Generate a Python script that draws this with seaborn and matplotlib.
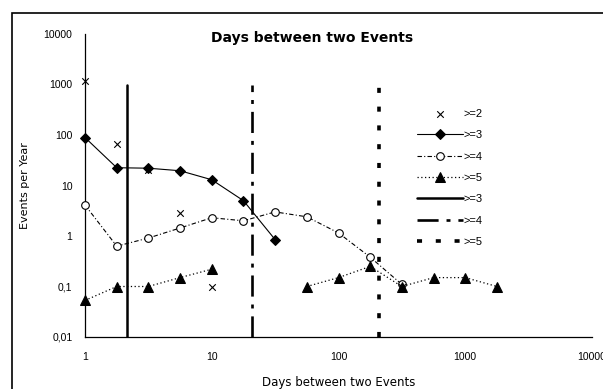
import numpy as np
import pandas as pd
import seaborn as sns
import matplotlib
matplotlib.use('Agg')
import matplotlib.pyplot as plt
from matplotlib.patches import Rectangle
from matplotlib.ticker import FixedLocator, FixedFormatter, NullLocator

# values (quarter-decade day bins)
ge2_days = [1, 1.78, 3.16, 5.62, 10, 316]
ge2_events = [1150, 65, 20, 2.9, 0.1, 0.1]

ge3_days = [1, 1.78, 3.16, 5.62, 10, 17.8, 31.6]
ge3_events = [89, 22.5, 22, 19.6, 13, 5.0, 0.85]

ge4_days = [1, 1.78, 3.16, 5.62, 10, 17.8, 31.6, 56.2, 100, 178, 316]
ge4_events = [4.1, 0.63, 0.91, 1.44, 2.3, 2.0, 3.0, 2.4, 1.15, 0.38, 0.11]

ge5_days_a = [1, 1.78, 3.16, 5.62, 10]
ge5_events_a = [0.053, 0.1, 0.1, 0.15, 0.22]
ge5_days_b = [56.2, 100, 178, 316, 562, 1000, 1778]
ge5_events_b = [0.1, 0.15, 0.25, 0.1, 0.15, 0.15, 0.1]

# vertical threshold lines
thr_days = [2.14, 20.6, 210]
thr_labels = ['>=3', '>=4', '>=5']
thr_span = [0.01, 1000]

ytick_vals = [0.01, 0.1, 1, 10, 100, 1000, 10000]
ytick_labels = ['0,01', '0,1', '1', '10', '100', '1000', '10000']
xtick_vals = [1, 10, 100, 1000, 10000]
xtick_labels = ['1', '10', '100', '1000', '10000']

sns.set_style('white')
plt.rcParams['font.family'] = ['Liberation Sans', 'DejaVu Sans']
plt.rcParams['text.color'] = 'black'
plt.rcParams['axes.labelcolor'] = 'black'

W, H = 603, 389
fig = plt.figure(figsize=(W / 100, H / 100), dpi=100)
ax = fig.add_axes([85 / W, 52 / H, (592 - 85) / W, (337 - 34) / H])

# vertical lines
thr_styles = ['-', (0, (8, 3, 1.5, 3)), (0, (1.4, 3.8))]
thr_widths = [1.8, 1.9, 2.6]
for d, lab, ls, lw in zip(thr_days, thr_labels, thr_styles, thr_widths):
    sns.lineplot(x=[d, d], y=thr_span, ax=ax, color='black', linestyle=ls, lw=lw,
                 estimator=None, sort=False, label=lab)

sns.lineplot(x=ge3_days, y=ge3_events, ax=ax, color='black', lw=0.8, marker='D',
             markersize=5, markeredgecolor='black', estimator=None, sort=False,
             label='>=3', clip_on=False, zorder=4)
sns.lineplot(x=ge4_days, y=ge4_events, ax=ax, color='black', lw=0.8,
             linestyle=(0, (4, 2, 1, 2)), marker='o', markersize=5.5,
             markerfacecolor='white', markeredgecolor='black', markeredgewidth=0.8,
             estimator=None, sort=False, label='>=4', clip_on=False, zorder=4)
sns.lineplot(x=ge5_days_a, y=ge5_events_a, ax=ax, color='black', lw=0.9,
             linestyle=(0, (1, 2)), marker='^', markersize=6.5,
             markeredgecolor='black', estimator=None, sort=False,
             label='>=5', clip_on=False, zorder=4)
sns.lineplot(x=ge5_days_b, y=ge5_events_b, ax=ax, color='black', lw=0.9,
             linestyle=(0, (1, 2)), marker='^', markersize=6.5,
             markeredgecolor='black', estimator=None, sort=False,
             clip_on=False, zorder=4)
sns.scatterplot(x=ge2_days, y=ge2_events, ax=ax, color='black', marker='x', s=22,
                linewidth=0.8, label='>=2', clip_on=False, zorder=5)

ax.set_xscale('log')
ax.set_yscale('log')
ax.set_xlim(1, 10000)
ax.set_ylim(0.01, 10000)
ax.xaxis.set_major_locator(FixedLocator(xtick_vals))
ax.xaxis.set_major_formatter(FixedFormatter(xtick_labels))
ax.yaxis.set_major_locator(FixedLocator(ytick_vals))
ax.yaxis.set_major_formatter(FixedFormatter(ytick_labels))
ax.xaxis.set_minor_locator(NullLocator())
ax.yaxis.set_minor_locator(NullLocator())
ax.tick_params(axis='both', direction='out', length=3, width=0.8, labelsize=7.5,
               colors='black')
ax.tick_params(axis='x', pad=8)
ax.tick_params(axis='y', pad=6)
for s in ['top', 'right']:
    ax.spines[s].set_visible(False)
for s in ['left', 'bottom']:
    ax.spines[s].set_linewidth(0.9)
    ax.spines[s].set_color('black')

ax.set_xlabel('Days between two Events', fontsize=8.5, family='DejaVu Sans', labelpad=10)
ax.set_ylabel('Events per Year', fontsize=8, family='DejaVu Sans', labelpad=10)
fig.text(312 / W, 1 - 38 / H, 'Days between two Events', ha='center', va='center',
         fontsize=10, fontweight='bold', family='DejaVu Sans')

handles, labels = ax.get_legend_handles_labels()
order = [6, 3, 4, 5, 0, 1, 2]
ax.legend([handles[i] for i in order], [labels[i] for i in order],
          loc='upper left', bbox_to_anchor=(417 / W, 1 - 109 / H),
          bbox_transform=fig.transFigure, frameon=False, fontsize=8,
          handlelength=4.1, handletextpad=0.1, labelspacing=1.02,
          borderpad=0, borderaxespad=0)

fig.patches.append(Rectangle((12 / W, -0.2), 1.2, 1.2 - 13 / H, transform=fig.transFigure,
                             fill=False, edgecolor='black', lw=1.2))

fig.savefig('out.png', dpi=100)
